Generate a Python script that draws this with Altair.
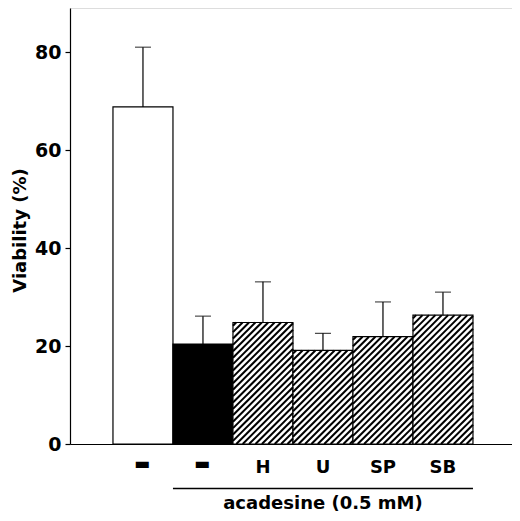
import altair as alt
import pandas as pd

# ---- data ----
categories = ["control", "acadesine", "H", "U", "SP", "SB"]
x_labels = ["▬", "▬", "H", "U", "SP", "SB"]
viability = [68.8, 20.4, 24.8, 19.1, 21.9, 26.3]
sd = [12.2, 5.7, 8.3, 3.5, 7.1, 4.7]
hatched = [False, False, True, True, True, True]
y_ticks = [0, 20, 40, 60, 80]
y_title = "Viability (%)"
group_label = "acadesine (0.5 mM)"
group_first = "acadesine"
group_last = "SB"

# ---- styles / layout ----
fills = ["white", "black", "white", "white", "white", "white"]
FONT = "DejaVu Sans"
W, H = 442, 436
YMAX = 89
BAR_PX = 60
N = len(categories)
XMAX = W / BAR_PX
PAD_OUTER = (XMAX - N) / 2
ALIGN = 0.524
STEP = BAR_PX
OFFSET = 2 * PAD_OUTER * ALIGN
PY = H / YMAX
HATCH_GAP = 6.4
DASH = "▬"

df = pd.DataFrame({
    "cat": categories,
    "lab": x_labels,
    "idx": list(range(N)),
    "v": viability,
    "sd": sd,
    "hatched": hatched,
})
df["upper"] = df["v"] + df["sd"]

grp = pd.DataFrame({
    "label": [group_label],
    "i0": [categories.index(group_first)],
    "i1": [categories.index(group_last)],
})

yscale = alt.Scale(domain=[0, YMAX], nice=False, zero=True)
yaxis = alt.Axis(
    values=y_ticks, grid=False, tickSize=5, tickColor="black", domainColor="black",
    domainWidth=1.2, tickWidth=1.2,
    labelFont=FONT, labelFontWeight="bold", labelFontSize=19, labelColor="black",
    labelPadding=4,
    titleFont=FONT, titleFontWeight="bold", titleFontSize=18, titleColor="black",
    titleX=-45, titleY=222, titleAngle=270, titleAlign="center", titleBaseline="alphabetic",
)
xband = alt.X(
    "cat:N", sort=categories, title=None,
    scale=alt.Scale(paddingInner=0, paddingOuter=PAD_OUTER, align=ALIGN),
    axis=alt.Axis(labels=False, ticks=False, domainColor="black", domainWidth=1.2),
)
xq_scale = alt.Scale(domain=[0, XMAX], nice=False, zero=False)

bars = alt.Chart(df).mark_bar(stroke="black", strokeWidth=1.2).encode(
    x=xband,
    y=alt.Y("v:Q", scale=yscale, axis=yaxis, title=y_title),
    fill=alt.Fill("cat:N", scale=alt.Scale(domain=categories, range=fills), legend=None),
)

stems = alt.Chart(df).mark_rule(color="black", strokeWidth=1.2).encode(
    x=xband,
    y=alt.Y("v:Q", scale=yscale, title=y_title),
    y2="upper:Q",
)
caps = alt.Chart(df).mark_tick(color="black", thickness=1.2, size=16).encode(
    x=xband,
    y=alt.Y("upper:Q", scale=yscale, title=y_title),
)

letter_labels = (
    alt.Chart(df)
    .transform_filter(f"datum.lab != '{DASH}'")
    .mark_text(font=FONT, fontWeight="bold", fontSize=18, color="black",
               baseline="alphabetic", align="center")
    .encode(x=xband, y=alt.value(465), text="lab:N")
)
dash_labels = (
    alt.Chart(df)
    .transform_filter(f"datum.lab == '{DASH}'")
    .mark_text(font=FONT, fontWeight="bold", fontSize=17, color="black",
               baseline="alphabetic", align="center", dx=-1)
    .encode(x=xband, y=alt.value(461), text="lab:N")
)

hatch = (
    alt.Chart(df)
    .transform_filter("datum.hatched")
    .transform_calculate(Hp=f"datum.v * {PY}", x0=f"datum.idx + {OFFSET}")
    .transform_calculate(cs=f"sequence(-datum.Hp + {HATCH_GAP / 2}, {STEP}, {HATCH_GAP})")
    .transform_flatten(["cs"])
    .transform_calculate(u0="max(0, datum.cs)", u1=f"min({STEP}, datum.Hp + datum.cs)")
    .transform_filter("datum.u1 > datum.u0 + 0.5")
    .transform_calculate(
        hx=f"datum.x0 + datum.u0 / {STEP}",
        hx2=f"datum.x0 + datum.u1 / {STEP}",
        hy=f"(datum.u0 - datum.cs) / {PY}",
        hy2=f"(datum.u1 - datum.cs) / {PY}",
    )
    .mark_rule(color="black", strokeWidth=2.0)
    .encode(
        x=alt.X("hx:Q", scale=xq_scale, axis=None),
        x2="hx2:Q",
        y=alt.Y("hy:Q", scale=yscale, title=y_title),
        y2="hy2:Q",
    )
)

bracket = (
    alt.Chart(grp)
    .transform_calculate(gx=f"datum.i0 + {OFFSET}", gx2=f"datum.i1 + 1 + {OFFSET}")
    .mark_rule(color="black", strokeWidth=1.5)
    .encode(x=alt.X("gx:Q", scale=xq_scale, axis=None), x2="gx2:Q", y=alt.value(480.5))
)
group_text = (
    alt.Chart(grp)
    .transform_calculate(gc=f"(datum.i0 + datum.i1 + 1) / 2 + {OFFSET}")
    .mark_text(font=FONT, fontWeight="bold", fontSize=18, color="black",
               baseline="alphabetic", align="center")
    .encode(x=alt.X("gc:Q", scale=xq_scale, axis=None), y=alt.value(501), text="label:N")
)

band_layers = alt.layer(bars, stems, caps, letter_labels, dash_labels)
q_layers = alt.layer(hatch, bracket, group_text)

chart = (
    alt.layer(band_layers, q_layers)
    .resolve_scale(x="independent")
    .properties(
        width=W, height=H,
        autosize=alt.AutoSizeParams(type="none"),
        padding={"left": 62, "top": 0, "right": 0, "bottom": 69},
    )
    .configure_view(stroke=None)
    .configure_axisTop(domain=False, ticks=False, labels=False, grid=False)
    .configure(background="white")
)

chart.save("out.html", embed_options={"renderer": "svg", "actions": False})
